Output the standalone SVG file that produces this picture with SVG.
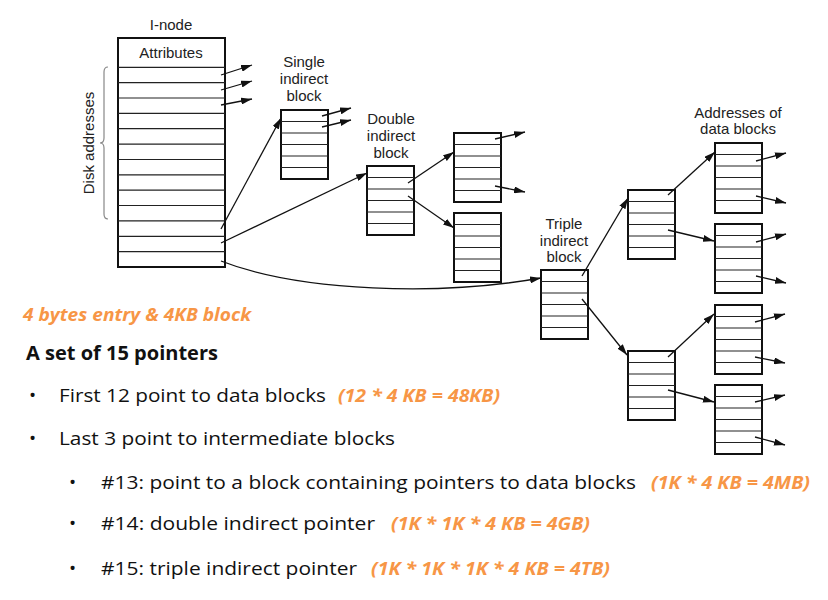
<svg xmlns="http://www.w3.org/2000/svg" width="828" height="600" viewBox="0 0 828 600">
<style>
.box{fill:#fff;stroke:#111;stroke-width:2}
.row{stroke:#222;stroke-width:1.2}
.lbl{font-family:"Liberation Sans",Arial,sans-serif;font-size:15px;fill:#222;text-anchor:middle}
.con{fill:none;stroke:#111;stroke-width:1.3;marker-end:url(#ah)}
.t{font-family:"Open Sans","Liberation Sans",sans-serif;font-size:19px;fill:#111}
.o{font-family:"Open Sans","Liberation Sans",sans-serif;font-size:18px;fill:#F79646;font-style:italic;font-weight:bold}
</style>
<defs>
<marker id="ah" markerUnits="userSpaceOnUse" markerWidth="11" markerHeight="7" refX="11" refY="3.5" orient="auto">
<path d="M0,0 L11,3.5 L0,7 z" fill="#111"/>
</marker>
</defs>
<rect width="828" height="600" fill="#fff"/>

<g id="inode">
<text class="lbl" x="171" y="30">I-node</text>
<rect class="box" x="118" y="38" width="107" height="229"/>
<text class="lbl" x="171" y="58">Attributes</text>
<line class="row" x1="118" y1="67.3" x2="225" y2="67.3"/>
<line class="row" x1="118" y1="82.7" x2="225" y2="82.7"/>
<line class="row" x1="118" y1="98" x2="225" y2="98"/>
<line class="row" x1="118" y1="113.4" x2="225" y2="113.4"/>
<line class="row" x1="118" y1="128.7" x2="225" y2="128.7"/>
<line class="row" x1="118" y1="144.1" x2="225" y2="144.1"/>
<line class="row" x1="118" y1="159.5" x2="225" y2="159.5"/>
<line class="row" x1="118" y1="174.8" x2="225" y2="174.8"/>
<line class="row" x1="118" y1="190.2" x2="225" y2="190.2"/>
<line class="row" x1="118" y1="205.5" x2="225" y2="205.5"/>
<line class="row" x1="118" y1="220.9" x2="225" y2="220.9"/>
<line class="row" x1="118" y1="236.3" x2="225" y2="236.3"/>
<line class="row" x1="118" y1="251.6" x2="225" y2="251.6"/>
<path d="M108,67 Q104,67 104,72 L104,138 Q104,143 100,143 Q104,143 104,148 L104,214 Q104,219 108,219" fill="none" stroke="#888" stroke-width="1.2"/>
<text class="lbl" x="0" y="0" transform="translate(94,143) rotate(-90)">Disk addresses</text>
</g>

<g id="single">
<text class="lbl" x="304" y="67">Single</text>
<text class="lbl" x="304" y="84">indirect</text>
<text class="lbl" x="304" y="101">block</text>
<rect class="box" x="281" y="110" width="47" height="69"/>
<line class="row" x1="281" y1="121.5" x2="328" y2="121.5"/>
<line class="row" x1="281" y1="133" x2="328" y2="133"/>
<line class="row" x1="281" y1="144.5" x2="328" y2="144.5"/>
<line class="row" x1="281" y1="156" x2="328" y2="156"/>
<line class="row" x1="281" y1="167.5" x2="328" y2="167.5"/>
</g>

<g id="double">
<text class="lbl" x="391" y="124">Double</text>
<text class="lbl" x="391" y="141">indirect</text>
<text class="lbl" x="391" y="158">block</text>
<rect class="box" x="367" y="166" width="47" height="69"/>
<line class="row" x1="367" y1="177.5" x2="414" y2="177.5"/>
<line class="row" x1="367" y1="189" x2="414" y2="189"/>
<line class="row" x1="367" y1="200.5" x2="414" y2="200.5"/>
<line class="row" x1="367" y1="212" x2="414" y2="212"/>
<line class="row" x1="367" y1="223.5" x2="414" y2="223.5"/>
</g>

<g id="d1">
<rect class="box" x="454" y="133" width="47" height="69"/>
<line class="row" x1="454" y1="144.5" x2="501" y2="144.5"/>
<line class="row" x1="454" y1="156" x2="501" y2="156"/>
<line class="row" x1="454" y1="167.5" x2="501" y2="167.5"/>
<line class="row" x1="454" y1="179" x2="501" y2="179"/>
<line class="row" x1="454" y1="190.5" x2="501" y2="190.5"/>
</g>

<g id="d2">
<rect class="box" x="454" y="213" width="47" height="69"/>
<line class="row" x1="454" y1="224.5" x2="501" y2="224.5"/>
<line class="row" x1="454" y1="236" x2="501" y2="236"/>
<line class="row" x1="454" y1="247.5" x2="501" y2="247.5"/>
<line class="row" x1="454" y1="259" x2="501" y2="259"/>
<line class="row" x1="454" y1="270.5" x2="501" y2="270.5"/>
</g>

<g id="triple">
<text class="lbl" x="564" y="229">Triple</text>
<text class="lbl" x="564" y="246">indirect</text>
<text class="lbl" x="564" y="262">block</text>
<rect class="box" x="541" y="270" width="47" height="69"/>
<line class="row" x1="541" y1="281.5" x2="588" y2="281.5"/>
<line class="row" x1="541" y1="293" x2="588" y2="293"/>
<line class="row" x1="541" y1="304.5" x2="588" y2="304.5"/>
<line class="row" x1="541" y1="316" x2="588" y2="316"/>
<line class="row" x1="541" y1="327.5" x2="588" y2="327.5"/>
</g>

<g id="t1">
<rect class="box" x="628" y="190" width="47" height="69"/>
<line class="row" x1="628" y1="201.5" x2="675" y2="201.5"/>
<line class="row" x1="628" y1="213" x2="675" y2="213"/>
<line class="row" x1="628" y1="224.5" x2="675" y2="224.5"/>
<line class="row" x1="628" y1="236" x2="675" y2="236"/>
<line class="row" x1="628" y1="247.5" x2="675" y2="247.5"/>
</g>

<g id="t2">
<rect class="box" x="628" y="351" width="47" height="69"/>
<line class="row" x1="628" y1="362.5" x2="675" y2="362.5"/>
<line class="row" x1="628" y1="374" x2="675" y2="374"/>
<line class="row" x1="628" y1="385.5" x2="675" y2="385.5"/>
<line class="row" x1="628" y1="397" x2="675" y2="397"/>
<line class="row" x1="628" y1="408.5" x2="675" y2="408.5"/>
</g>

<g id="addr-label">
<text class="lbl" x="738" y="118">Addresses of</text>
<text class="lbl" x="738" y="134">data blocks</text>
</g>

<g id="a1">
<rect class="box" x="715" y="143" width="47" height="70"/>
<line class="row" x1="715" y1="154.5" x2="762" y2="154.5"/>
<line class="row" x1="715" y1="166" x2="762" y2="166"/>
<line class="row" x1="715" y1="177.5" x2="762" y2="177.5"/>
<line class="row" x1="715" y1="189" x2="762" y2="189"/>
<line class="row" x1="715" y1="200.5" x2="762" y2="200.5"/>
</g>

<g id="a2">
<rect class="box" x="715" y="224" width="47" height="69"/>
<line class="row" x1="715" y1="235.5" x2="762" y2="235.5"/>
<line class="row" x1="715" y1="247" x2="762" y2="247"/>
<line class="row" x1="715" y1="258.5" x2="762" y2="258.5"/>
<line class="row" x1="715" y1="270" x2="762" y2="270"/>
<line class="row" x1="715" y1="281.5" x2="762" y2="281.5"/>
</g>

<g id="a3">
<rect class="box" x="715" y="305" width="47" height="69"/>
<line class="row" x1="715" y1="316.5" x2="762" y2="316.5"/>
<line class="row" x1="715" y1="328" x2="762" y2="328"/>
<line class="row" x1="715" y1="339.5" x2="762" y2="339.5"/>
<line class="row" x1="715" y1="351" x2="762" y2="351"/>
<line class="row" x1="715" y1="362.5" x2="762" y2="362.5"/>
</g>

<g id="a4">
<rect class="box" x="715" y="385" width="47" height="69"/>
<line class="row" x1="715" y1="396.5" x2="762" y2="396.5"/>
<line class="row" x1="715" y1="408" x2="762" y2="408"/>
<line class="row" x1="715" y1="419.5" x2="762" y2="419.5"/>
<line class="row" x1="715" y1="431" x2="762" y2="431"/>
<line class="row" x1="715" y1="442.5" x2="762" y2="442.5"/>
</g>

<g id="connectors">
<line class="con" x1="221" y1="75" x2="252" y2="65"/>
<line class="con" x1="221" y1="90" x2="252" y2="81"/>
<line class="con" x1="221" y1="105" x2="252" y2="99"/>
<line class="con" x1="221" y1="229" x2="281" y2="118"/>
<line class="con" x1="221" y1="243" x2="367" y2="173"/>
<path class="con" d="M221,261 C300,292 440,296 541,278"/>
<line class="con" x1="322" y1="116" x2="351" y2="108"/>
<line class="con" x1="322" y1="127" x2="351" y2="120"/>
<line class="con" x1="408" y1="183" x2="454" y2="152"/>
<line class="con" x1="408" y1="196" x2="454" y2="228"/>
<line class="con" x1="495" y1="139" x2="525" y2="132"/>
<line class="con" x1="495" y1="186" x2="525" y2="192"/>
<line class="con" x1="582" y1="276" x2="628" y2="198"/>
<line class="con" x1="582" y1="299" x2="627" y2="355"/>
<line class="con" x1="668" y1="195" x2="715" y2="152"/>
<line class="con" x1="668" y1="230" x2="714" y2="241"/>
<line class="con" x1="668" y1="357" x2="714" y2="314"/>
<line class="con" x1="668" y1="390" x2="714" y2="402"/>
<line class="con" x1="756" y1="161" x2="786" y2="153"/>
<line class="con" x1="756" y1="196" x2="786" y2="203"/>
<line class="con" x1="756" y1="242" x2="786" y2="234"/>
<line class="con" x1="756" y1="276" x2="786" y2="283"/>
<line class="con" x1="755" y1="322" x2="785" y2="314"/>
<line class="con" x1="755" y1="357" x2="785" y2="363"/>
<line class="con" x1="755" y1="402" x2="785" y2="395"/>
<line class="con" x1="755" y1="437" x2="785" y2="445"/>
</g>

<g id="notes">
<text class="o" x="23" y="321" textLength="228" lengthAdjust="spacingAndGlyphs">4 bytes entry &amp; 4KB block</text>
<text class="t" x="26" y="360" font-weight="bold" textLength="192" lengthAdjust="spacingAndGlyphs">A set of 15 pointers</text>
<text class="t" x="29" y="402">•</text>
<text class="t" x="59" y="402" textLength="267" lengthAdjust="spacingAndGlyphs">First 12 point to data blocks</text>
<text class="o" x="338" y="402" textLength="162" lengthAdjust="spacingAndGlyphs">(12 * 4 KB = 48KB)</text>
<text class="t" x="29" y="445">•</text>
<text class="t" x="59" y="445" textLength="336" lengthAdjust="spacingAndGlyphs">Last 3 point to intermediate blocks</text>
<text class="t" x="69" y="489">•</text>
<text class="t" x="101" y="489" textLength="535" lengthAdjust="spacingAndGlyphs">#13: point to a block containing pointers to data blocks</text>
<text class="o" x="651" y="489" textLength="159" lengthAdjust="spacingAndGlyphs">(1K * 4 KB = 4MB)</text>
<text class="t" x="69" y="530">•</text>
<text class="t" x="101" y="530" textLength="274" lengthAdjust="spacingAndGlyphs">#14: double indirect pointer</text>
<text class="o" x="391" y="530" textLength="199" lengthAdjust="spacingAndGlyphs">(1K * 1K * 4 KB = 4GB)</text>
<text class="t" x="69" y="575">•</text>
<text class="t" x="101" y="575" textLength="256" lengthAdjust="spacingAndGlyphs">#15: triple indirect pointer</text>
<text class="o" x="371" y="575" textLength="239" lengthAdjust="spacingAndGlyphs">(1K * 1K * 1K * 4 KB = 4TB)</text>
</g>
</svg>
